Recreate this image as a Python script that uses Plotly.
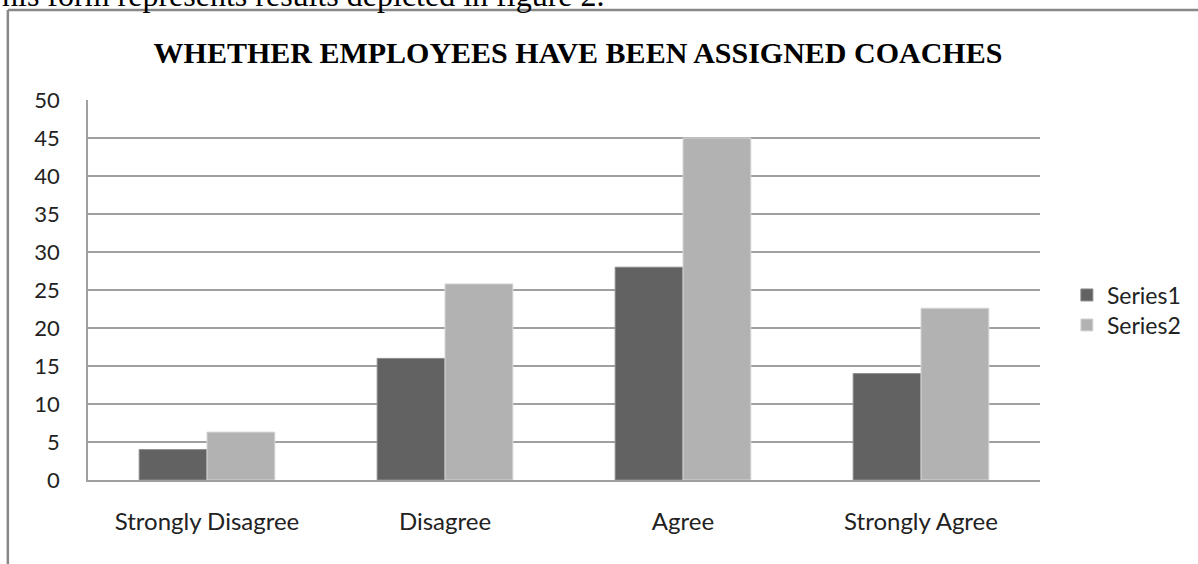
import plotly.graph_objects as go

categories = ["Strongly Disagree", "Disagree", "Agree", "Strongly Agree"]
series1 = [4, 16, 28, 14]
series2 = [6.3, 25.8, 45, 22.6]
y_ticks = [0, 5, 10, 15, 20, 25, 30, 35, 40, 45, 50]

W, H = 1198, 564
L, R, T, B = 88, 1044, 100, 480

def px(x):
    return (x - L) / (R - L)

def py(y):
    return (B - y) / (B - T)

fig = go.Figure()
fig.add_trace(go.Bar(x=categories, y=series1, name="Series1", legend="legend",
                     marker=dict(color="#626262", line=dict(color="#8c8c8c", width=1))))
fig.add_trace(go.Bar(x=categories, y=series2, name="Series2", legend="legend2",
                     marker=dict(color="#b2b2b2", line=dict(color="#d6d6d6", width=1))))

leg_common = dict(xanchor="left", yanchor="middle", font=dict(size=23, color="#222"),
                  bgcolor="rgba(0,0,0,0)", itemwidth=30)

fig.update_layout(
    width=W, height=H,
    margin=dict(l=L, r=W - R, t=T, b=H - B),
    paper_bgcolor="white", plot_bgcolor="white",
    barmode="group", bargap=0.43, bargroupgap=0,
    font=dict(family="Lato, Carlito, 'Open Sans', sans-serif", size=22, color="#222"),
    title=dict(text="<b>WHETHER EMPLOYEES HAVE BEEN ASSIGNED COACHES</b>",
               font=dict(family="Liberation Serif, Times New Roman, serif", size=30, color="#000"),
               x=578 / W, xanchor="center", xref="container",
               y=1 - 52 / H, yanchor="middle", yref="container"),
    legend=dict(x=px(1071), y=py(295), **leg_common),
    legend2=dict(x=px(1071), y=py(325), **leg_common),
    showlegend=True,
)
fig.update_xaxes(showline=True, linecolor="#a0a0a0", linewidth=2, ticks="",
                 showgrid=False, tickfont=dict(size=24), ticklabelstandoff=19)
fig.update_yaxes(range=[0, 50], tickvals=y_ticks, showline=True, linecolor="#a0a0a0",
                 linewidth=1.5, gridcolor="#a0a0a0", gridwidth=1.5, ticks="",
                 ticklabelstandoff=22, tickfont=dict(size=22), zeroline=False)

# page frame (part of a document page)
fig.add_shape(type="line", xref="paper", yref="paper",
              x0=px(7.5), x1=px(W + 5), y0=py(10), y1=py(10),
              line=dict(color="#888888", width=2.5))
fig.add_shape(type="line", xref="paper", yref="paper",
              x0=px(7.5), x1=px(7.5), y0=py(10), y1=py(H + 5),
              line=dict(color="#888888", width=2.5))
fig.add_annotation(text="his form represents results depicted in figure 2.",
                   xref="paper", yref="paper", x=px(0), y=py(15),
                   xanchor="left", yanchor="bottom", showarrow=False,
                   font=dict(family="Liberation Serif, Times New Roman, serif", size=32, color="#000"))

fig.write_html("out.html", config={"displayModeBar": False},
               post_script="document.body.style.margin='0px';document.body.style.overflow='hidden';")
